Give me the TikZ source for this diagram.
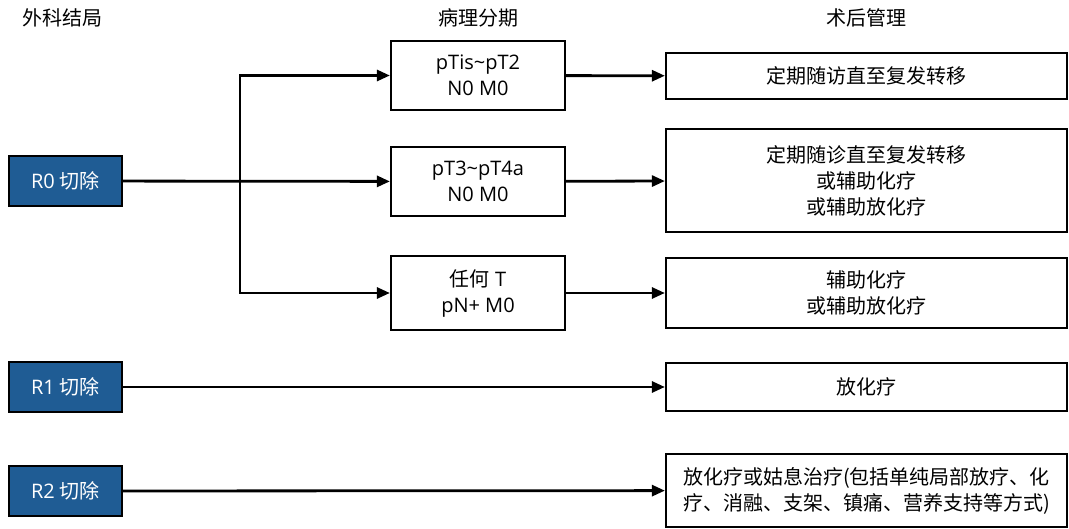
\documentclass[tikz,border=0pt]{standalone}
\usepackage{fontspec}
\setmainfont{Open Sans}
\newfontfamily\cjk{Noto Sans CJK SC}
\usetikzlibrary{arrows.meta}
\definecolor{rblue}{RGB}{31,92,148}
\tikzset{
  base/.style={font=\fontsize{20pt}{26pt}\selectfont, align=center, inner sep=0pt, line width=2.2pt},
  rbox/.style={base, draw=black, fill=rblue, text=white, minimum width=113pt, minimum height=50pt},
  mbox/.style={base, draw=black, fill=white, minimum width=174pt},
  obox/.style={base, draw=black, fill=white, minimum width=401pt},
  head/.style={base},
  arr/.style={line width=2.8pt, -{Triangle[length=13pt,width=11pt]}}
}
\begin{document}
\begin{tikzpicture}[x=1pt,y=-1pt]
\useasboundingbox (0,0) rectangle (1069,528);
% headers
\node[head] (h1) at (63,18) {\cjk 外科结局};
\node[head] (h2) at (478,18) {\cjk 病理分期};
\node[head] (h3) at (866.5,18) {\cjk 术后管理};
% left
\node[rbox] (R0) at (65.5,181) {R0 {\cjk 切除}};
\node[rbox] (R1) at (65.5,387) {R1 {\cjk 切除}};
\node[rbox] (R2) at (65.5,491) {R2 {\cjk 切除}};
% middle
\node[mbox, minimum height=69pt] (m1) at (478,75.5) {pTis\textasciitilde pT2\\N0 M0};
\node[mbox, minimum height=69pt] (m2) at (478,181.5) {pT3\textasciitilde pT4a\\N0 M0};
\node[mbox, minimum height=74pt] (m3) at (478,293) {{\cjk 任何} T\\pN+ M0};
% right
\node[obox, minimum height=46pt] (o1) at (866.5,76) {\cjk 定期随访直至复发转移};
\node[obox, minimum height=103pt] (o2) at (866.5,180.5) {\cjk 定期随诊直至复发转移\\\cjk 或辅助化疗\\\cjk 或辅助放化疗};
\node[obox, minimum height=70pt] (o3) at (866.5,293) {\cjk 辅助化疗\\\cjk 或辅助放化疗};
\node[obox, minimum height=48pt] (o4) at (866.5,387) {\cjk 放化疗};
\node[obox, minimum height=73pt] (o5) at (866.5,490.5) {\cjk 放化疗或姑息治疗(包括单纯局部放疗、化\\\cjk 疗、消融、支架、镇痛、营养支持等方式)};
% connectors
\coordinate (sp) at (240,181);
\draw[arr] (R0) -- (m2);
\draw[arr] (sp) |- (m1);
\draw[arr] (sp) |- (m3);
\draw[arr] (m1) -- (o1);
\draw[arr] (m2) -- (o2);
\draw[arr] (m3) -- (o3);
\draw[arr] (R1) -- (o4);
\draw[arr] (R2) -- (o5);
\end{tikzpicture}
\end{document}
